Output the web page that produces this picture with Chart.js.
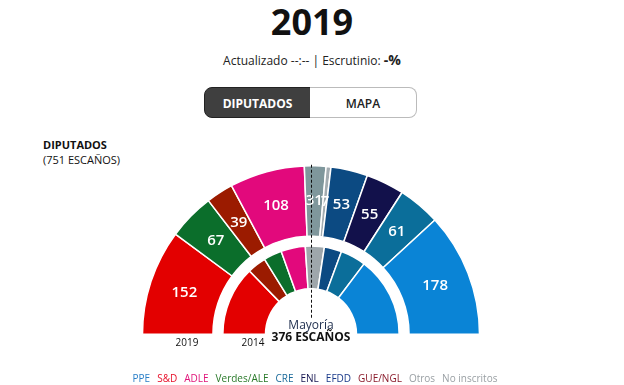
<!DOCTYPE html>
<html>
<head>
<meta charset="utf-8">
<script src="https://cdn.jsdelivr.net/npm/chart.js@4"></script>
<style>
  body { margin: 0; width: 624px; height: 385px; background: #fff; font-family: 'Open Sans', sans-serif; position: relative; overflow: hidden; }
  #titulo { position: absolute; top: -3px; width: 624px; text-align: center; font-size: 36px; font-weight: 700; color: #111; }
  #sub { position: absolute; top: 50px; width: 624px; text-align: center; font-size: 12px; color: #222; }
  #sub b { font-size: 14px; }
  .btn { position: absolute; top: 87px; height: 31px; line-height: 31px; text-align: center; font-size: 12px; box-sizing: border-box; }
  #b1 { left: 204px; width: 107px; background: #3f3f3f; color: #fff; font-weight: 700; border-radius: 8px 0 0 8px; border: 1px solid #222; }
  #b2 { left: 310px; width: 107px; background: #fff; color: #222; border-radius: 0 8px 8px 0; border: 1px solid #bbb; border-left: none; font-weight: 600; }
  #dip { position: absolute; left: 43px; top: 137px; font-size: 11px; line-height: 15px; color: #111; }
  #leyenda { position: absolute; top: 371px; left: 3px; width: 624px; text-align: center; font-size: 10px; }
  #leyenda span { margin: 0 3.5px; }
  canvas { position: absolute; left: 0; top: 0; }
</style>
</head>
<body>
<div id="titulo">2019</div>
<div id="sub">Actualizado --:-- | Escrutinio: <b>-%</b></div>
<div class="btn" id="b1">DIPUTADOS</div>
<div class="btn" id="b2">MAPA</div>
<div id="dip"><b>DIPUTADOS</b><br>(751 ESCAÑOS)</div>
<canvas id="hemiciclo" width="624" height="385"></canvas>
<div id="leyenda"></div>
<script>
// grupos y escaños
const grupos2019 = ['S&D', 'Verdes/ALE', 'GUE/NGL', 'ADLE', 'No inscritos', 'Otros', 'EFDD', 'ENL', 'CRE', 'PPE'];
const escanos2019 = [152, 67, 39, 108, 31, 7, 53, 55, 61, 178];
const grupos2014 = ['S&D', 'GUE/NGL', 'Verdes/ALE', 'ADLE', 'No inscritos', 'EFDD', 'CRE', 'PPE'];
const escanos2014 = [191, 52, 50, 67, 52, 48, 70, 221];
const totalEscanos = 751;
const mayoria = 376;
const leyenda = ['PPE', 'S&D', 'ADLE', 'Verdes/ALE', 'CRE', 'ENL', 'EFDD', 'GUE/NGL', 'Otros', 'No inscritos'];

const colores = {
  'PPE': '#0a84d6',
  'S&D': '#e30000',
  'ADLE': '#e2097c',
  'Verdes/ALE': '#0b6e2b',
  'CRE': '#0b6e9a',
  'ENL': '#12114b',
  'EFDD': '#0c4a82',
  'GUE/NGL': '#9b1b00',
  'Otros': '#a3acb1',
  'No inscritos': '#7f979c'
};
const coloresTexto = {
  'PPE': '#2a7fc8', 'S&D': '#e8102a', 'ADLE': '#e0157a', 'Verdes/ALE': '#2a7a2a',
  'CRE': '#1a6a9a', 'ENL': '#141450', 'EFDD': '#1a3a8a', 'GUE/NGL': '#8a1a2a',
  'Otros': '#9aa0a4', 'No inscritos': '#9aa0a4'
};
const coloresInner = Object.assign({}, colores, { 'No inscritos': '#9ea6ab' });

document.getElementById('leyenda').innerHTML = leyenda
  .map(g => '<span style="color:' + coloresTexto[g] + '">' + g + '</span>').join('');

// etiquetas, línea de mayoría y textos
const extras = {
  id: 'extras',
  afterDatasetsDraw(chart) {
    const ctx = chart.ctx;
    const meta = chart.getDatasetMeta(0);
    ctx.save();
    ctx.fillStyle = '#fff';
    ctx.font = '600 15px "Open Sans"';
    ctx.textAlign = 'center';
    ctx.textBaseline = 'middle';
    meta.data.forEach((arc, i) => {
      const p = arc.tooltipPosition();
      ctx.fillText(String(escanos2019[i]), p.x, p.y);
    });
    const c = meta.data[0];
    const cx = c.x, cy = c.y, r = c.outerRadius;
    ctx.strokeStyle = '#111';
    ctx.lineWidth = 1;
    ctx.setLineDash([3, 2]);
    ctx.beginPath();
    ctx.moveTo(cx + 0.5, cy - r - 1);
    ctx.lineTo(cx + 0.5, cy - 16);
    ctx.stroke();
    ctx.setLineDash([]);
    ctx.fillStyle = '#1b2b4b';
    ctx.font = '12px "Open Sans"';
    ctx.fillText('Mayoría', cx, cy - 9);
    ctx.fillStyle = '#111';
    ctx.font = '700 12px "Open Sans"';
    ctx.fillText(mayoria + ' ESCAÑOS', cx, cy + 3);
    ctx.font = '10px "Open Sans"';
    ctx.fillText('2019', 187, cy + 9);
    ctx.fillText('2014', 253, cy + 9);
    ctx.restore();
  }
};

new Chart(document.getElementById('hemiciclo'), {
  type: 'doughnut',
  data: {
    labels: grupos2019,
    datasets: [{
      label: '2019',
      data: escanos2019,
      backgroundColor: grupos2019.map(g => colores[g]),
      borderColor: '#fff',
      borderWidth: 1.5,
      weight: 71
    }, {
      label: 'hueco',
      data: [totalEscanos],
      backgroundColor: 'rgba(0,0,0,0)',
      borderWidth: 0,
      weight: 10
    }, {
      label: '2014',
      data: escanos2014,
      backgroundColor: grupos2014.map(g => coloresInner[g]),
      borderColor: '#fff',
      borderWidth: 1.5,
      weight: 43
    }]
  },
  options: {
    responsive: false,
    animation: false,
    rotation: -90,
    circumference: 180,
    cutout: '27%',
    layout: { padding: { left: 141, right: 143, top: 165, bottom: 50 } },
    plugins: {
      legend: { display: false },
      tooltip: { enabled: false }
    }
  },
  plugins: [extras]
});
</script>
</body>
</html>
